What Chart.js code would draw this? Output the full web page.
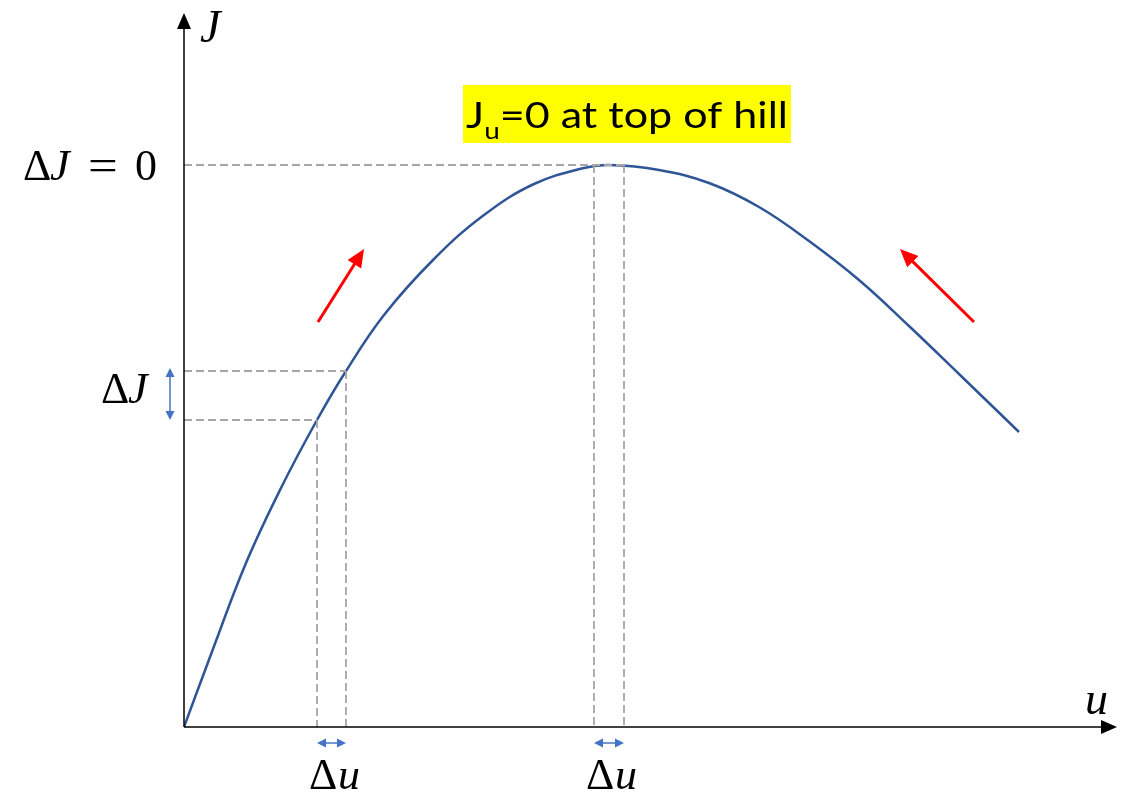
<!DOCTYPE html>
<html>
<head>
<meta charset="utf-8">
<script src="https://cdn.jsdelivr.net/npm/chart.js@4.4.1/dist/chart.umd.min.js"></script>
<style>
  html, body { margin: 0; padding: 0; background: #fff; }
  #wrap { width: 1138px; height: 798px; position: relative; }
</style>
</head>
<body>
<div id="wrap"><canvas id="grafico-colina"></canvas></div>
<script>
// curva J(u) (u e J em unidades arbitrarias)
const uValores = [0, 29, 62, 97, 133, 162, 200, 250, 300, 350, 400, 425, 475, 525, 575, 625, 675, 725, 775, 835]
const jValores = [0, 78, 164, 239, 307, 356, 412, 468, 512, 543, 559, 562, 557, 544, 520, 486, 447, 401, 353, 295]

// pontos de referencia (linhas tracejadas)
const uInclinacao = [133, 162]   // Δu na subida
const jInclinacao = [307, 356]   // ΔJ correspondente
const uTopo = [410, 440]         // Δu no topo
const jTopo = 562                // ΔJ = 0

const uMax = 931
const jMax = 712

const corCurva = '#2F5597'
const corTracejado = '#A6A6A6'
const corAzul = '#4472C4'
const corVermelho = '#FF0000'

const pontos = uValores.map((u, i) => ({ x: u, y: jValores[i] }))

const tracejado = (dados) => ({
    data: dados,
    showLine: true,
    borderColor: corTracejado,
    borderWidth: 1.8,
    borderDash: [8, 4],
    pointRadius: 0,
    tension: 0,
    fill: false
})

const datasets = [
    tracejado([{ x: 0, y: jTopo }, { x: uTopo[1], y: jTopo }]),
    tracejado([{ x: uTopo[0], y: jTopo }, { x: uTopo[0], y: 0 }]),
    tracejado([{ x: uTopo[1], y: jTopo }, { x: uTopo[1], y: 0 }]),
    tracejado([{ x: 0, y: jInclinacao[1] }, { x: uInclinacao[1], y: jInclinacao[1] }]),
    tracejado([{ x: 0, y: jInclinacao[0] }, { x: uInclinacao[0], y: jInclinacao[0] }]),
    tracejado([{ x: uInclinacao[0], y: jInclinacao[0] }, { x: uInclinacao[0], y: 0 }]),
    tracejado([{ x: uInclinacao[1], y: jInclinacao[1] }, { x: uInclinacao[1], y: 0 }]),
    {
        data: pontos,
        showLine: true,
        borderColor: corCurva,
        borderWidth: 2.5,
        pointRadius: 0,
        tension: 0.4,
        fill: false
    }
]

// desenha seta com ponta cheia
function seta(ctx, x1, y1, x2, y2, cor, largura, comp, abertura) {
    const ang = Math.atan2(y2 - y1, x2 - x1)
    ctx.save()
    ctx.strokeStyle = cor
    ctx.fillStyle = cor
    ctx.lineWidth = largura
    ctx.beginPath()
    ctx.moveTo(x1, y1)
    ctx.lineTo(x2 - Math.cos(ang) * comp * 0.8, y2 - Math.sin(ang) * comp * 0.8)
    ctx.stroke()
    ctx.beginPath()
    ctx.moveTo(x2, y2)
    ctx.lineTo(x2 - comp * Math.cos(ang) + abertura * Math.sin(ang), y2 - comp * Math.sin(ang) - abertura * Math.cos(ang))
    ctx.lineTo(x2 - comp * Math.cos(ang) - abertura * Math.sin(ang), y2 - comp * Math.sin(ang) + abertura * Math.cos(ang))
    ctx.closePath()
    ctx.fill()
    ctx.restore()
}

function setaDupla(ctx, x1, y1, x2, y2) {
    const mx = (x1 + x2) / 2, my = (y1 + y2) / 2
    seta(ctx, mx, my, x1, y1, corAzul, 1.5, 9, 4.5)
    seta(ctx, mx, my, x2, y2, corAzul, 1.5, 9, 4.5)
}

// escreve partes de texto matematico, cada uma numa posicao x
function textoMat(ctx, partes, y, tam) {
    partes.forEach(([txt, italico, x]) => {
        ctx.font = `${italico ? 'italic ' : ''}${tam}px "Liberation Serif", "DejaVu Serif", serif`
        ctx.fillText(txt, x, y)
    })
}

const pluginAnotacoes = {
    id: 'anotacoes',
    afterDatasetsDraw(chart) {
        const ctx = chart.ctx
        const sx = chart.scales.x, sy = chart.scales.y
        const x0 = sx.getPixelForValue(0), y0 = sy.getPixelForValue(0)
        const xFim = sx.getPixelForValue(uMax), yFim = sy.getPixelForValue(jMax)

        // eixos
        seta(ctx, x0, y0, x0, yFim - 2, '#000', 1.5, 16, 7)
        seta(ctx, x0, y0, xFim + 2, y0, '#000', 1.5, 16, 7)

        // setas vermelhas
        seta(ctx, sx.getPixelForValue(134), sy.getPixelForValue(405), sx.getPixelForValue(180), sy.getPixelForValue(478), corVermelho, 3, 18, 8)
        seta(ctx, sx.getPixelForValue(790), sy.getPixelForValue(405), sx.getPixelForValue(716), sy.getPixelForValue(478), corVermelho, 3, 18, 8)

        // setas azuis
        const yDu = y0 + 16
        setaDupla(ctx, sx.getPixelForValue(uInclinacao[0]), yDu, sx.getPixelForValue(uInclinacao[1]), yDu)
        setaDupla(ctx, sx.getPixelForValue(uTopo[0]), yDu, sx.getPixelForValue(uTopo[1]), yDu)
        setaDupla(ctx, x0 - 14, sy.getPixelForValue(jInclinacao[1]) - 3, x0 - 14, sy.getPixelForValue(jInclinacao[0]))

        // textos
        ctx.save()
        ctx.fillStyle = '#000'
        ctx.textBaseline = 'alphabetic'
        ctx.textAlign = 'left'
        textoMat(ctx, [['J', true, x0 + 16]], 42, 46)
        textoMat(ctx, [['u', true, xFim - 30]], y0 - 13, 46)
        textoMat(ctx, [['Δ', false, 23], ['J', true, 50], ['0', false, 135]], 180, 44)
        ctx.save()
        ctx.translate(88, 0)
        ctx.scale(1.2, 1)
        textoMat(ctx, [['=', false, 0]], 180, 44)
        ctx.restore()
        textoMat(ctx, [['Δ', false, 101], ['J', true, 128]], 403, 44)
        const xDu1 = sx.getPixelForValue(uInclinacao[0]) - 8
        const xDu2 = sx.getPixelForValue(uTopo[0]) - 8
        textoMat(ctx, [['Δ', false, xDu1], ['u', true, xDu1 + 29]], 789, 44)
        textoMat(ctx, [['Δ', false, xDu2], ['u', true, xDu2 + 29]], 789, 44)

        // caixa amarela
        const bx = 463, by = 85, bw = 328, bh = 58
        ctx.fillStyle = '#FFFF00'
        ctx.fillRect(bx, by, bw, bh)
        ctx.fillStyle = '#000'
        const tam = 37
        const fonte = `${tam}px Lato, "Open Sans", sans-serif`
        const fonteSub = `${Math.round(tam * 0.65)}px Lato, "Open Sans", sans-serif`
        ctx.font = fonte
        const w1 = ctx.measureText('J').width
        const w3 = ctx.measureText('=0 at top of hill').width
        ctx.font = fonteSub
        const w2 = ctx.measureText('u').width
        const total = w1 + w2 + w3
        const esc = (bw - 6) / total
        ctx.translate(bx + 3, 0)
        ctx.scale(esc, 1)
        ctx.font = fonte
        ctx.fillText('J', 0, 128)
        ctx.font = fonteSub
        ctx.fillText('u', w1, 139)
        ctx.font = fonte
        ctx.fillText('=0 at top of hill', w1 + w2, 128)
        ctx.restore()
    }
}

let graficoColina = new Chart(
    document.getElementById('grafico-colina'),
    {
        type: 'scatter',
        data: { datasets: datasets },
        options: {
            responsive: true,
            maintainAspectRatio: false,
            animation: false,
            layout: { padding: { left: 184, right: 23, top: 15, bottom: 71 } },
            scales: {
                x: { type: 'linear', min: 0, max: uMax, display: false },
                y: { type: 'linear', min: 0, max: jMax, display: false }
            },
            plugins: {
                legend: { display: false },
                tooltip: { enabled: false }
            }
        },
        plugins: [pluginAnotacoes]
    }
)
</script>
</body>
</html>
